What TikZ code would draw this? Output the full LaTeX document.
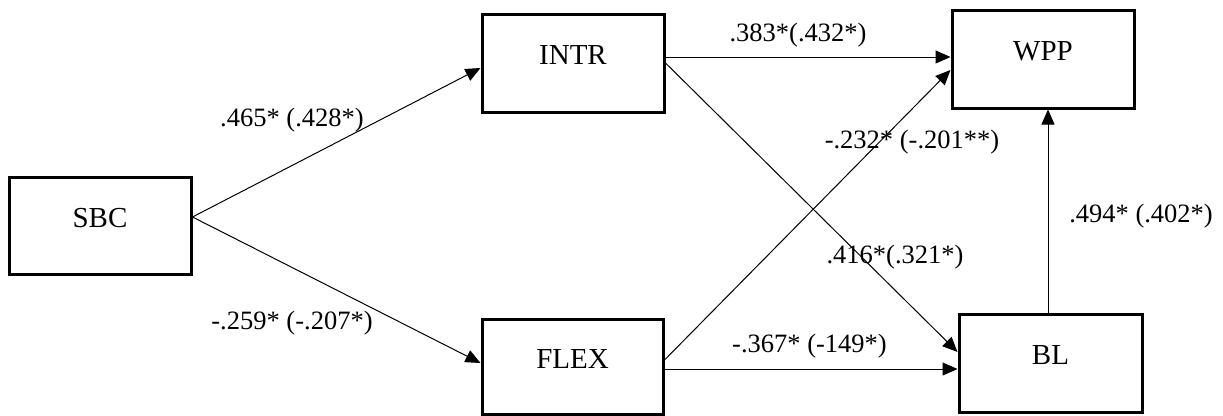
\documentclass[tikz,border=0pt]{standalone}
\usepackage{fontspec}
\setmainfont{Liberation Serif}
\usetikzlibrary{arrows.meta}
\tikzset{
  box/.style={draw, line width=3pt, inner sep=0pt, minimum width=182pt, minimum height=97pt,
    font=\fontsize{29}{29}\selectfont, text height=22pt, text depth=18.8pt},
  lbl/.style={inner sep=0pt, font=\fontsize{26.5}{26.5}\selectfont},
  conn/.style={line width=1pt, -{Triangle[length=15pt,width=13pt]}}
}
\begin{document}
\begin{tikzpicture}[x=1pt,y=-1pt]
\useasboundingbox (0,0) rectangle (1223,415);
\node[box] (sbc) at (100,225.5) {SBC};
\node[box, minimum height=98pt] (intr) at (573,63) {INTR};
\node[box, minimum height=98pt] (wpp) at (1043,59) {WPP};
\node[box, minimum width=181pt, minimum height=95pt] (flex) at (572.5,366.5) {FLEX};
\node[box, minimum width=183pt, minimum height=98pt] (bl) at (1050.5,363) {BL};

\draw[conn] ([yshift=8.5pt]sbc.east) -- ([yshift=-5pt]intr.west);
\draw[conn] ([yshift=8.5pt]sbc.east) -- ([yshift=3.5pt]flex.west);
\draw[conn] ([yshift=6pt]intr.east) -- ([yshift=2pt]wpp.west);
\draw[conn] (intr.east) -- ([yshift=11pt]bl.west);
\draw[conn] ([yshift=6.5pt]flex.east) -- ([yshift=-11pt]wpp.west);
\draw[conn] ([yshift=-2.5pt]flex.east) -- ([yshift=-6pt]bl.west);
\draw[conn] ([xshift=-2.5pt]bl.north) -- ([xshift=5pt]wpp.south);

\node[lbl] (l1) at (292,120) {.465* (.428*)};
\node[lbl] (l2) at (292,323) {-.259* (-.207*)};
\node[lbl] (l3) at (798,35) {.383*(.432*)};
\node[lbl] (l4) at (895,257) {.416*(.321*)};
\node[lbl] (l5) at (912,142) {-.232* (-.201**)};
\node[lbl] (l6) at (809.5,346) {-.367* (-149*)};
\node[lbl] (l7) at (1141,216) {.494* (.402*)};
\end{tikzpicture}
\end{document}
